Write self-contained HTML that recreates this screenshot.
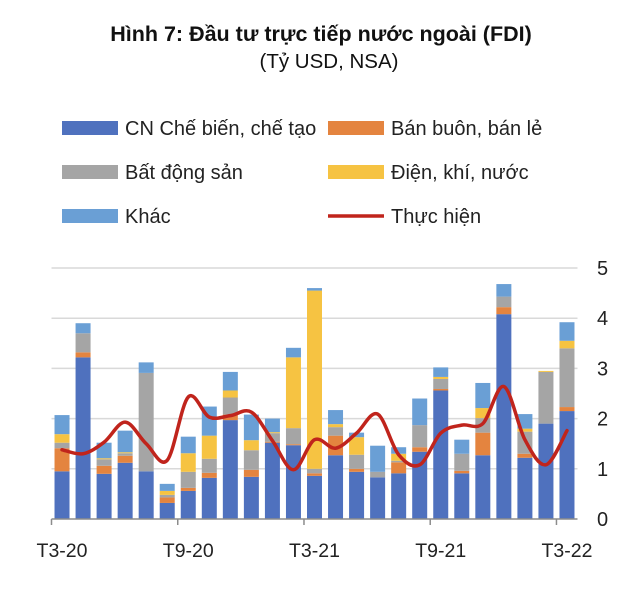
<!DOCTYPE html>
<html><head><meta charset="utf-8">
<style>
body{margin:0;background:#fff;font-family:"Liberation Sans",sans-serif;}
svg text{font-family:"Liberation Sans",sans-serif;}
</style></head>
<body>
<svg id="chart" width="640" height="585" viewBox="0 0 640 585" xmlns="http://www.w3.org/2000/svg">
<text x="321" y="41" text-anchor="middle" font-size="21.5" font-weight="bold" fill="#111">Hình 7: Đầu tư trực tiếp nước ngoài (FDI)</text>
<text x="329" y="68" text-anchor="middle" font-size="20.5" fill="#111">(Tỷ USD, NSA)</text>
<g font-size="20" fill="#222">
<rect x="62" y="121" width="56" height="14" fill="#4f71be"/>
<text x="125" y="135">CN Chế biến, chế tạo</text>
<rect x="328" y="121" width="56" height="14" fill="#e4843f"/>
<text x="391" y="135">Bán buôn, bán lẻ</text>
<rect x="62" y="165" width="56" height="14" fill="#a5a5a5"/>
<text x="125" y="179">Bất động sản</text>
<rect x="328" y="165" width="56" height="14" fill="#f6c342"/>
<text x="391" y="179">Điện, khí, nước</text>
<rect x="62" y="209" width="56" height="14" fill="#6a9fd5"/>
<text x="125" y="223">Khác</text>
<line x1="328" y1="216" x2="384" y2="216" stroke="#c0241c" stroke-width="3.5"/>
<text x="391" y="223">Thực hiện</text>
</g>
<g id="grid"></g><g id="bars"></g><g id="line"></g><g id="axes"></g>
</svg>
<script>
const categories=["T3-20","T4-20","T5-20","T6-20","T7-20","T8-20","T9-20","T10-20","T11-20","T12-20","T1-21","T2-21","T3-21","T4-21","T5-21","T6-21","T7-21","T8-21","T9-21","T10-21","T11-21","T12-21","T1-22","T2-22","T3-22"];
const manufacturing=[0.95,3.22,0.9,1.12,0.95,0.32,0.56,0.82,1.97,0.84,1.52,1.47,0.86,1.27,0.94,0.83,0.91,1.34,2.56,0.91,1.27,4.08,1.22,1.9,2.15];
const retail=[0.46,0.10,0.16,0.14,0,0.11,0.06,0.10,0.11,0.14,0.02,0.02,0.05,0.39,0.06,0,0.22,0.09,0.03,0.05,0.45,0.14,0.08,0,0.08];
const realEstate=[0.11,0.38,0.13,0.05,1.96,0.05,0.32,0.28,0.34,0.39,0.17,0.32,0.09,0.17,0.28,0.11,0.03,0.44,0.20,0.34,0.29,0.21,0.44,1.03,1.17];
const utilities=[0.17,0,0.02,0.02,0,0.08,0.37,0.46,0.14,0.20,0.02,1.41,3.55,0.06,0.35,0,0.14,0,0.04,0,0.20,0,0.06,0.02,0.15];
const other=[0.38,0.20,0.31,0.43,0.21,0.14,0.33,0.58,0.37,0.51,0.27,0.19,0.05,0.28,0.09,0.52,0.13,0.53,0.19,0.28,0.50,0.25,0.29,0,0.37];
const disbursed=[1.38,1.3,1.53,1.93,1.5,1.17,2.43,2.03,2.06,2.13,1.56,0.98,1.58,1.41,1.71,2.09,1.28,1.08,1.71,1.87,1.9,2.64,1.58,1.08,1.76];
const yTicks=[0,1,2,3,4,5];
const xLabels=["T3-20","","","","","","T9-20","","","","","","T3-21","","","","","","T9-21","","","","","","T3-22"];
const series=[[manufacturing,"#4f71be","manufacturing"],[retail,"#e4843f","retail"],[realEstate,"#a5a5a5","real-estate"],[utilities,"#f6c342","utilities"],[other,"#6a9fd5","other"]];
const NS="http://www.w3.org/2000/svg";
const X0=51.5,X1=577.5,Y0=519,YPX=50.2;
const band=(X1-X0)/categories.length;
const xc=i=>X0+band*(i+0.5);
const y=v=>Y0-v*YPX;
function mk(tag,attrs,parent){const e=document.createElementNS(NS,tag);for(const k in attrs)e.setAttribute(k,attrs[k]);parent.appendChild(e);return e;}
const grid=document.getElementById('grid'),bars=document.getElementById('bars'),lineG=document.getElementById('line'),axes=document.getElementById('axes');
yTicks.forEach(t=>{
 if(t>0){const g=mk('line',{x1:X0,x2:X1,y1:y(t),y2:y(t),stroke:'#d9d9d9','stroke-width':1.5},grid);
 
 }
 const tx=mk('text',{x:597,y:y(t)+7,'font-size':20,fill:'#222'},axes);tx.textContent=t;
 
 
});
categories.forEach((c,i)=>{
 let acc=0;
 series.forEach(([arr,col,nm])=>{
  const v=arr[i];if(v<=0)return;
  const r=mk('rect',{x:xc(i)-7.5,width:15,y:y(acc+v),height:v*YPX,fill:col},bars);
  
  
  acc+=v;
 });
 if(xLabels[i]){const t=mk('text',{x:xc(i),y:557,'text-anchor':'middle','font-size':19.5,fill:'#222'},axes);t.textContent=xLabels[i];
 
 }
});
const ax=mk('line',{x1:X0,x2:X1,y1:Y0,y2:Y0,stroke:'#8c8c8c','stroke-width':1.5},axes);


for(let i=0;i<=categories.length;i+=6){const tk=mk('line',{x1:X0+band*i,x2:X0+band*i,y1:Y0,y2:Y0+6,stroke:'#8c8c8c','stroke-width':1.5},axes);
 
 }
const pts=disbursed.map((v,i)=>[xc(i),y(v)]);
let d='M'+pts[0][0]+','+pts[0][1];
for(let i=0;i<pts.length-1;i++){
 const p0=pts[Math.max(0,i-1)],p1=pts[i],p2=pts[i+1],p3=pts[Math.min(pts.length-1,i+2)];
 const c1=[p1[0]+(p2[0]-p0[0])/6,p1[1]+(p2[1]-p0[1])/6],c2=[p2[0]-(p3[0]-p1[0])/6,p2[1]-(p3[1]-p1[1])/6];
 d+=' C'+c1+' '+c2+' '+p2;
}
const ln=mk('path',{d:d,fill:'none',stroke:'#c0241c','stroke-width':3.5,'stroke-linecap':'round'},lineG);


</script>
</body></html>
